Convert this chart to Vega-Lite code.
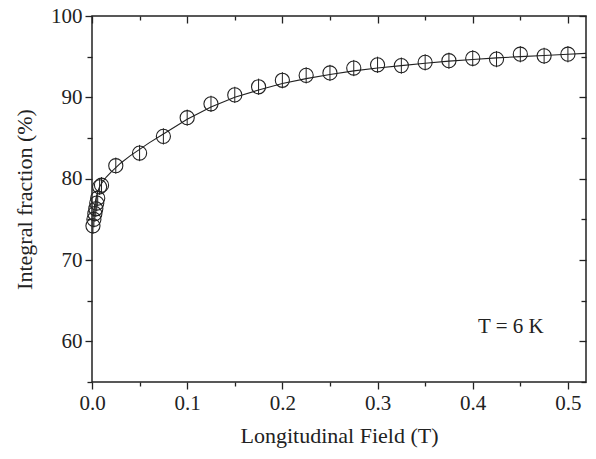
{
  "$schema": "https://vega.github.io/schema/vega-lite/v6.json",
  "width": 494,
  "height": 366,
  "autosize": "none",
  "padding": {"left": 92, "top": 16, "right": 10, "bottom": 77},
  "background": "white",
  "config": {
    "view": {"stroke": "#222", "strokeWidth": 1.5},
    "axis": {
      "labelFont": "Liberation Serif",
      "labelFontSize": 21,
      "labelColor": "#222",
      "labelFlush": false,
      "labelOverlap": false,
      "titleFont": "Liberation Serif",
      "titleFontSize": 22,
      "titleFontWeight": "normal",
      "titleColor": "#222",
      "tickColor": "#222",
      "tickWidth": 1.3,
      "domain": false,
      "grid": false
    }
  },
  "datasets": {
    "curve": [
      {"field": 0.001, "frac": 75.3},
      {"field": 0.002, "frac": 76.2},
      {"field": 0.004, "frac": 77.5},
      {"field": 0.006, "frac": 78.4},
      {"field": 0.008, "frac": 79.0},
      {"field": 0.01, "frac": 79.4},
      {"field": 0.015, "frac": 80.2},
      {"field": 0.02, "frac": 80.8},
      {"field": 0.03, "frac": 81.9},
      {"field": 0.04, "frac": 82.8},
      {"field": 0.05, "frac": 83.6},
      {"field": 0.06, "frac": 84.4},
      {"field": 0.075, "frac": 85.5},
      {"field": 0.1, "frac": 87.3},
      {"field": 0.125, "frac": 88.8},
      {"field": 0.15, "frac": 90.0},
      {"field": 0.175, "frac": 90.9},
      {"field": 0.2, "frac": 91.7},
      {"field": 0.225, "frac": 92.3},
      {"field": 0.25, "frac": 92.8},
      {"field": 0.275, "frac": 93.25},
      {"field": 0.3, "frac": 93.6},
      {"field": 0.325, "frac": 93.9},
      {"field": 0.35, "frac": 94.2},
      {"field": 0.375, "frac": 94.45},
      {"field": 0.4, "frac": 94.65},
      {"field": 0.425, "frac": 94.85},
      {"field": 0.45, "frac": 95.0},
      {"field": 0.475, "frac": 95.15},
      {"field": 0.5, "frac": 95.3},
      {"field": 0.519, "frac": 95.4}
    ],
    "points": [
      {"field": 0.001, "frac": 74.2, "err": 1.0},
      {"field": 0.002, "frac": 75.0, "err": 1.0},
      {"field": 0.003, "frac": 75.7, "err": 1.0},
      {"field": 0.004, "frac": 76.3, "err": 1.0},
      {"field": 0.005, "frac": 77.0, "err": 1.0},
      {"field": 0.006, "frac": 77.6, "err": 1.0},
      {"field": 0.008, "frac": 79.0, "err": 1.0},
      {"field": 0.01, "frac": 79.2, "err": 1.0},
      {"field": 0.025, "frac": 81.6, "err": 1.0},
      {"field": 0.05, "frac": 83.15, "err": 1.0},
      {"field": 0.075, "frac": 85.2, "err": 1.0},
      {"field": 0.1, "frac": 87.5, "err": 1.0},
      {"field": 0.125, "frac": 89.2, "err": 1.0},
      {"field": 0.15, "frac": 90.3, "err": 1.0},
      {"field": 0.175, "frac": 91.3, "err": 1.0},
      {"field": 0.2, "frac": 92.1, "err": 1.0},
      {"field": 0.225, "frac": 92.7, "err": 1.0},
      {"field": 0.25, "frac": 93.0, "err": 1.0},
      {"field": 0.275, "frac": 93.6, "err": 1.0},
      {"field": 0.3, "frac": 94.0, "err": 1.0},
      {"field": 0.325, "frac": 93.9, "err": 1.0},
      {"field": 0.35, "frac": 94.3, "err": 1.0},
      {"field": 0.375, "frac": 94.5, "err": 1.0},
      {"field": 0.4, "frac": 94.8, "err": 1.0},
      {"field": 0.425, "frac": 94.7, "err": 1.0},
      {"field": 0.45, "frac": 95.3, "err": 1.0},
      {"field": 0.475, "frac": 95.1, "err": 1.0},
      {"field": 0.5, "frac": 95.3, "err": 1.0}
    ],
    "note": [
      {"field": 0.44, "frac": 61.8, "label": "T = 6 K"}
    ]
  },
  "resolve": {"axis": {"x": "independent", "y": "independent"}},
  "layer": [
    {
      "data": {"name": "curve"},
      "mark": {"type": "line", "color": "#222", "strokeWidth": 1.1, "clip": true},
      "encoding": {
        "x": {"field": "field", "type": "quantitative",
          "scale": {"domain": [0, 0.519], "nice": false, "zero": false},
          "axis": {"orient": "bottom", "values": [0, 0.1, 0.2, 0.3, 0.4, 0.5], "format": ".1f", "tickSize": 7, "labelPadding": 3, "title": "Longitudinal Field (T)", "titlePadding": 12}},
        "y": {"field": "frac", "type": "quantitative",
          "scale": {"domain": [55, 100], "nice": false, "zero": false},
          "axis": {"orient": "left", "values": [60, 70, 80, 90, 100], "tickSize": 7, "labelPadding": 3, "title": "Integral fraction (%)", "titlePadding": 14}}
      }
    },
    {
      "data": {"name": "points"},
      "transform": [
        {"calculate": "datum.frac - datum.err", "as": "lo"},
        {"calculate": "datum.frac + datum.err", "as": "hi"}
      ],
      "mark": {"type": "rule", "color": "#222", "strokeWidth": 1},
      "encoding": {
        "x": {"field": "field", "type": "quantitative",
          "scale": {"domain": [0, 0.519], "nice": false, "zero": false},
          "axis": {"orient": "bottom", "values": [0.05, 0.15, 0.25, 0.35, 0.45], "tickSize": 4, "labels": false, "title": null}},
        "y": {"field": "lo", "type": "quantitative",
          "scale": {"domain": [55, 100], "nice": false, "zero": false},
          "axis": {"orient": "left", "values": [55, 65, 75, 85, 95], "tickSize": 5, "labels": false, "title": null}},
        "y2": {"field": "hi"}
      }
    },
    {
      "data": {"name": "points"},
      "mark": {"type": "point", "shape": "circle", "filled": false, "color": "#222", "strokeWidth": 1.1, "size": 200, "opacity": 1},
      "encoding": {
        "x": {"field": "field", "type": "quantitative",
          "scale": {"domain": [0, 0.519], "nice": false, "zero": false},
          "axis": {"orient": "top", "values": [0, 0.1, 0.2, 0.3, 0.4, 0.5], "tickSize": -7, "labels": false, "title": null}},
        "y": {"field": "frac", "type": "quantitative",
          "scale": {"domain": [55, 100], "nice": false, "zero": false},
          "axis": {"orient": "right", "values": [60, 70, 80, 90, 100], "tickSize": -7, "labels": false, "title": null}}
      }
    },
    {
      "data": {"name": "note"},
      "mark": {"type": "text", "font": "Liberation Serif", "fontSize": 21, "color": "#222", "align": "center", "baseline": "middle"},
      "encoding": {
        "x": {"field": "field", "type": "quantitative",
          "scale": {"domain": [0, 0.519], "nice": false, "zero": false},
          "axis": {"orient": "top", "values": [0.05, 0.15, 0.25, 0.35, 0.45], "tickSize": -4, "labels": false, "title": null}},
        "y": {"field": "frac", "type": "quantitative",
          "scale": {"domain": [55, 100], "nice": false, "zero": false},
          "axis": {"orient": "right", "values": [55, 65, 75, 85, 95], "tickSize": -5, "labels": false, "title": null}},
        "text": {"field": "label"}
      }
    }
  ]
}
